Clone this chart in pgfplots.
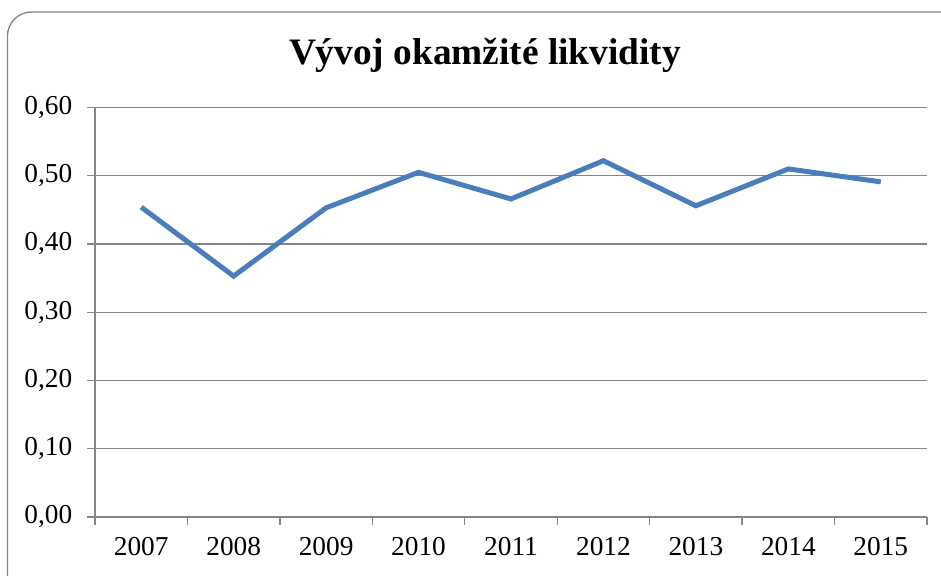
\documentclass[border=0pt]{standalone}
\usepackage{pgfplots}
\pgfplotsset{compat=1.18}
\usepackage{fontspec}
\setmainfont{Liberation Serif}
\definecolor{linblue}{HTML}{4A7EBB}
\definecolor{gridgray}{HTML}{868686}
\begin{document}
\begin{tikzpicture}
\useasboundingbox (0,0) rectangle (705.75pt,431.25pt);
\begin{scope}
\clip (0,0) rectangle (705.75pt,431.25pt);
\draw[gridgray, line width=1pt, rounded corners=18pt] (5.6pt,-30pt) rectangle (725pt,422.25pt);
\end{scope}
\node[anchor=base, font=\fontsize{28}{31}\selectfont\bfseries] at (363.75pt,382.5pt) {Vývoj okamžité likvidity};
\begin{axis}[
  at={(71.25pt,43.5pt)}, anchor=south west,
  scale only axis, width=624pt, height=307.125pt,
  xmin=0.5, xmax=9.5, ymin=0, ymax=0.6,
  axis lines*=left,
  axis line style={gridgray, line width=1pt},
  xtick={1,...,9},
  xticklabels={2007,2008,2009,2010,2011,2012,2013,2014,2015},
  minor xtick={0.5,1.5,...,9.5},
  major x tick style={draw=none},
  minor x tick style={gridgray, line width=1pt},
  minor tick length=6pt,
  ytick={0,0.1,...,0.61},
  ymajorgrids,
  major grid style={gridgray, line width=1pt},
  y tick style={gridgray, line width=1pt},
  major tick length=6pt,
  tick align=outside,
  tick label style={font=\fontsize{20.5}{23}\selectfont},
  xticklabel style={yshift=-6pt},
  yticklabel style={xshift=-7.5pt, /pgf/number format/.cd, fixed, fixed zerofill, precision=2, use comma},
  /pgf/number format/assume math mode=true,
  clip=false,
]
\addplot[linblue, line width=3.75pt] coordinates {
(1,0.454) (2,0.353) (3,0.453) (4,0.505) (5,0.466) (6,0.522) (7,0.456) (8,0.510) (9,0.491)
};
\end{axis}
\end{tikzpicture}
\end{document}
